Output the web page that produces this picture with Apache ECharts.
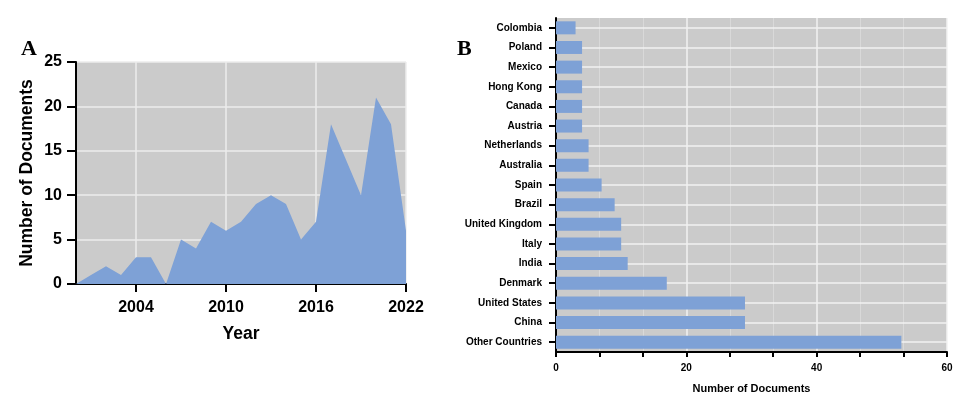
<!DOCTYPE html>
<html>
<head>
<meta charset="utf-8">
<script src="https://cdn.jsdelivr.net/npm/echarts@6/dist/echarts.min.js"></script>
<style>
  html, body { margin: 0; padding: 0; background: #fff; }
  #chart { width: 963px; height: 399px; }
</style>
</head>
<body>
<div id="chart"></div>
<script>
// panel A: documents per year
const years = ['2000', '2001', '2002', '2003', '2004', '2005', '2006', '2007', '2008', '2009', '2010',
  '2011', '2012', '2013', '2014', '2015', '2016', '2017', '2018', '2019', '2020', '2021', '2022']
const yearDocs = [0, 1, 2, 1, 3, 3, 0, 5, 4, 7, 6, 7, 9, 10, 9, 5, 7, 18, 14, 10, 21, 18, 6]
const yearTicks = ['2004', '2010', '2016', '2022']

// panel B: documents per country (top to bottom)
const countries = ['Colombia', 'Poland', 'Mexico', 'Hong Kong', 'Canada', 'Austria', 'Netherlands',
  'Australia', 'Spain', 'Brazil', 'United Kingdom', 'Italy', 'India', 'Denmark', 'United States',
  'China', 'Other Countries']
const countryDocs = [3, 4, 4, 4, 4, 4, 5, 5, 7, 9, 10, 10, 11, 17, 29, 29, 53]

const font = '"Liberation Sans", Arial, sans-serif'
const gray = '#cbcbcb'
const blue = '#7ea1d6'

const chart = echarts.init(document.getElementById('chart'))

const isTick = (i) => yearTicks.includes(years[i])

const option = {
  animation: false,
  graphic: [
    { type: 'text', left: 21, top: 38, style: { text: 'A', font: 'bold 22px "Liberation Serif", serif', fill: '#000' } },
    { type: 'text', left: 457, top: 38, style: { text: 'B', font: 'bold 22px "Liberation Serif", serif', fill: '#000' } }
  ],
  grid: [
    { left: 76, width: 330, top: 62, height: 222, show: true, backgroundColor: gray, borderWidth: 0 },
    { left: 556, width: 391, top: 18, height: 337, show: true, backgroundColor: gray, borderWidth: 0 }
  ],
  xAxis: [
    {
      gridIndex: 0,
      type: 'category',
      data: years,
      boundaryGap: false,
      name: 'Year',
      nameLocation: 'middle',
      nameGap: 41,
      nameTextStyle: { fontFamily: font, fontWeight: 'bold', fontSize: 17.5, color: '#000' },
      axisLine: { lineStyle: { color: '#000', width: 2 } },
      axisTick: { interval: isTick, length: 8, lineStyle: { color: '#000', width: 2 } },
      axisLabel: { interval: isTick, fontFamily: font, fontWeight: 'bold', fontSize: 16, color: '#000', margin: 16 },
      splitLine: { show: true, interval: isTick, lineStyle: { color: '#ececec', width: 1.5 } }
    },
    {
      gridIndex: 1,
      type: 'value',
      min: 0,
      max: 60,
      interval: 20,
      name: 'Number of Documents',
      nameLocation: 'middle',
      nameGap: 31,
      nameTextStyle: { fontFamily: font, fontWeight: 'bold', fontSize: 11, color: '#000' },
      axisLine: { show: true, lineStyle: { color: '#000', width: 2 } },
      axisTick: { show: true, length: 5, lineStyle: { color: '#000', width: 2 } },
      minorTick: { show: true, splitNumber: 3, length: 5, lineStyle: { color: '#000', width: 2 } },
      axisLabel: { fontFamily: font, fontWeight: 'bold', fontSize: 10, color: '#000', margin: 11 },
      splitLine: { show: true, lineStyle: { color: '#f2f2f2', width: 1.5 } },
      minorSplitLine: { show: true, lineStyle: { color: '#d9d9d9', width: 1 } }
    }
  ],
  yAxis: [
    {
      gridIndex: 0,
      type: 'value',
      min: 0,
      max: 25,
      interval: 5,
      name: 'Number of Documents',
      nameLocation: 'middle',
      nameGap: 40,
      nameTextStyle: { fontFamily: font, fontWeight: 'bold', fontSize: 17.5, color: '#000' },
      axisLine: { show: true, lineStyle: { color: '#000', width: 2 } },
      axisTick: { show: true, length: 9, lineStyle: { color: '#000', width: 2 } },
      axisLabel: { fontFamily: font, fontWeight: 'bold', fontSize: 16, color: '#000', margin: 14 },
      splitLine: { show: true, lineStyle: { color: '#ececec', width: 1.5 } }
    },
    {
      gridIndex: 1,
      type: 'category',
      data: countries,
      inverse: true,
      axisLine: { show: true, lineStyle: { color: '#000', width: 2 } },
      axisTick: { show: true, alignWithLabel: true, length: 7, lineStyle: { color: '#000', width: 2 } },
      axisLabel: { fontFamily: font, fontWeight: 'bold', fontSize: 10, color: '#000', margin: 14 },
      splitLine: { show: false }
    }
  ],
  series: [
    {
      type: 'line',
      xAxisIndex: 0,
      yAxisIndex: 0,
      data: yearDocs,
      symbol: 'none',
      lineStyle: { width: 0 },
      areaStyle: { color: blue, opacity: 1 }
    },
    {
      type: 'bar',
      xAxisIndex: 1,
      yAxisIndex: 1,
      data: countryDocs,
      barWidth: 13,
      z: 3,
      itemStyle: { color: blue },
      markLine: {
        silent: true,
        z: 1,
        symbol: 'none',
        label: { show: false },
        lineStyle: { color: '#f2f2f2', width: 1.5, type: 'solid' },
        data: countries.map(c => ({ yAxis: c }))
      }
    }
  ]
}

chart.setOption(option)
</script>
</body>
</html>
